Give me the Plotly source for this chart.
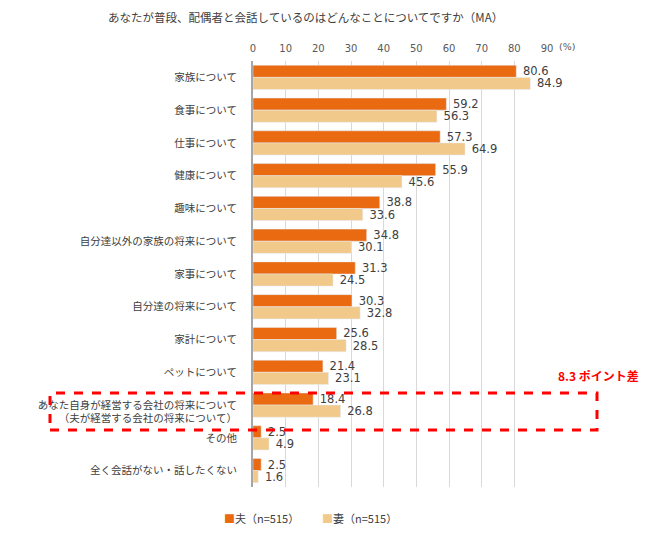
import plotly.graph_objects as go

categories = [
    "家族について", "食事について", "仕事について", "健康について", "趣味について",
    "自分達以外の家族の将来について", "家事について", "自分達の将来について", "家計について",
    "ペットについて",
    "<br>あなた自身が経営する会社の将来について<br>（夫が経営する会社の将来について）",
    "その他", "全く会話がない・話したくない",
]
husband = [80.6, 59.2, 57.3, 55.9, 38.8, 34.8, 31.3, 30.3, 25.6, 21.4, 18.4, 2.5, 2.5]
wife = [84.9, 56.3, 64.9, 45.6, 33.6, 30.1, 24.5, 32.8, 28.5, 23.1, 26.8, 4.9, 1.6]
series_names = ["夫（n=515）", "妻（n=515）"]
colors = ["#E96A10", "#F1C98A"]
tick_vals = list(range(0, 100, 10))

FONT = "Noto Sans CJK JP"
NUMFONT = "DejaVu Sans"
fig = go.Figure()
for name, vals, col in zip(series_names, [husband, wife], colors):
    fig.add_trace(go.Bar(
        y=categories, x=vals, orientation="h", name=name,
        marker=dict(color=col), text=["\u00a0" + f"{v:.1f}" for v in vals],
        textposition="outside", cliponaxis=False, constraintext="none",
        textfont=dict(size=11.5, color="#404040", family=NUMFONT),
        showlegend=False,
    ))

fig.update_layout(
    width=650, height=534,
    margin=dict(l=253, r=103, t=61, b=47, autoexpand=False),
    paper_bgcolor="white", plot_bgcolor="white",
    barmode="group", bargap=0.26, bargroupgap=0,
    font=dict(family=FONT, size=11, color="#404040"),
    title=dict(text="あなたが普段、配偶者と会話しているのはどんなことについてですか（MA）",
               x=108/650, xanchor="left", xref="container",
               y=1-18/534, yanchor="middle", yref="container",
               font=dict(size=11.5, color="#404040", family=FONT)),
    xaxis=dict(side="top", range=[0, 90], tickvals=tick_vals, showgrid=True,
               gridcolor="#d9d9d9", gridwidth=1, zeroline=False, showline=False,
               tickfont=dict(size=10, color="#595959", family=NUMFONT), ticks="",
               ticklabelstandoff=6),
    yaxis=dict(autorange="reversed", showline=True, linecolor="#a6a6a6", linewidth=2,
               ticks="", ticklabelstandoff=12, tickfont=dict(size=10.5, color="#404040")),
    showlegend=False,
)

# legend as colored squares + text
legend_x = [222, 320]
for name, col, px in zip(series_names, colors, legend_x):
    fig.add_annotation(text=f'<span style="color:{col}">■</span>{name}',
                       xref="paper", yref="paper", x=(px - 253) / 294, y=(487 - 518) / 426,
                       xanchor="left", yanchor="middle", showarrow=False,
                       font=dict(size=11, color="#404040"))

fig.add_annotation(text="(%)", xref="paper", yref="paper", x=(557 - 253) / 294, y=1 + 14 / 426,
                   xanchor="left", yanchor="middle",
                   showarrow=False, font=dict(size=9.5, color="#595959", family=NUMFONT))
fig.add_annotation(text="<b>8.3 ポイント差</b>", xref="paper", yref="paper",
                   x=(556 - 253) / 294, y=(487 - 375) / 426, xanchor="left", yanchor="middle",
                   showarrow=False, font=dict(size=12, color="#FF0000"))
fig.add_shape(type="rect", xref="paper", yref="paper",
              x0=(50 - 253) / 294, x1=(597 - 253) / 294,
              y0=(487 - 430) / 426, y1=(487 - 393) / 426,
              line=dict(color="#FF0000", width=3, dash="dash"))

fig.write_html("out.html")
